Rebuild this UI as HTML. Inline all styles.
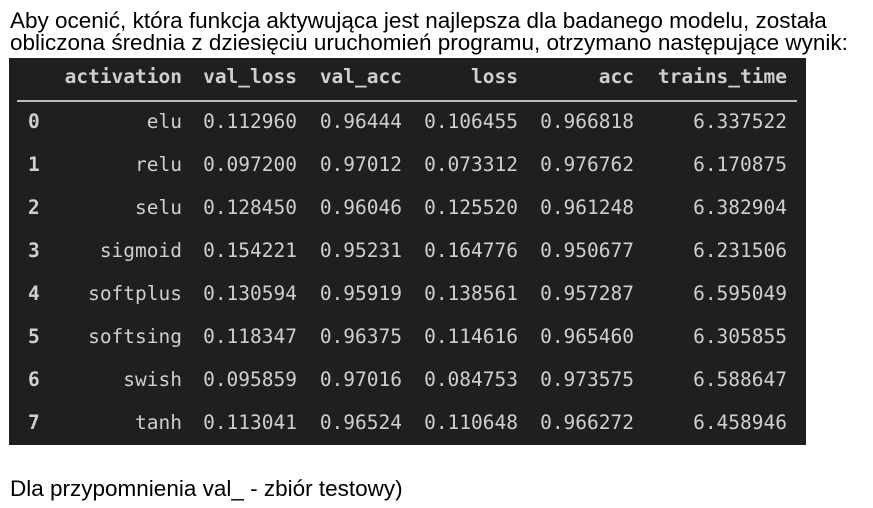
<!DOCTYPE html>
<html><head><meta charset="utf-8"><style>
body{margin:0;width:873px;height:508px;background:#fff;position:relative;overflow:hidden;font-family:"Liberation Sans",Arial,sans-serif;}
.txt{position:absolute;left:10px;font-size:22.5px;color:#000;white-space:nowrap;line-height:22px;}
#tbl{position:absolute;left:9px;top:58px;width:797px;height:387px;background:#1f1f1f;}
.c{position:absolute;font-family:"DejaVu Sans Mono","Liberation Mono",monospace;font-size:19.5px;color:#cfcfcf;white-space:nowrap;line-height:24px;}
.h{font-weight:bold;}
.idx{font-weight:bold;}
#rule{position:absolute;left:8px;top:42px;width:780px;height:2px;background:#bdbdbd;}
</style></head><body>
<div class="txt" style="top:10px">Aby ocenić, która funkcja aktywująca jest najlepsza dla badanego modelu, została<br>obliczona średnia z dziesięciu uruchomień programu, otrzymano następujące wynik:</div>
<div id="tbl"><div id="rule"></div></div>
<div class="txt" style="top:478px">Dla przypomnienia val_ - zbiór testowy)</div>
<script>
const headers=["activation","val_loss","val_acc","loss","acc","trains_time"];
const activations=["elu","relu","selu","sigmoid","softplus","softsing","swish","tanh"];
const valLoss=["0.112960","0.097200","0.128450","0.154221","0.130594","0.118347","0.095859","0.113041"];
const valAcc=["0.96444","0.97012","0.96046","0.95231","0.95919","0.96375","0.97016","0.96524"];
const loss=["0.106455","0.073312","0.125520","0.164776","0.138561","0.114616","0.084753","0.110648"];
const acc=["0.966818","0.976762","0.961248","0.950677","0.957287","0.965460","0.973575","0.966272"];
const trainsTime=["6.337522","6.170875","6.382904","6.231506","6.595049","6.305855","6.588647","6.458946"];
const tbl=document.getElementById('tbl');
const rights=[173,288,393,509,625,778];
const cols=[activations,valLoss,valAcc,loss,acc,trainsTime];
function cell(text,right,top,cls){const d=document.createElement('div');d.className='c '+cls;d.textContent=text;d.style.top=top+'px';d.style.right=(797-right)+'px';tbl.appendChild(d);return d;}
headers.forEach((h,i)=>{const d=cell(h,rights[i],7,'h');

});
activations.forEach((a,r)=>{const top=52+r*43;
const ix=document.createElement('div');ix.className='c idx';ix.textContent=r;ix.style.left='19px';ix.style.top=top+'px';


tbl.appendChild(ix);
cols.forEach((col,i)=>{const d=cell(col[r],rights[i],top,'');

});});
</script>
</body></html>
